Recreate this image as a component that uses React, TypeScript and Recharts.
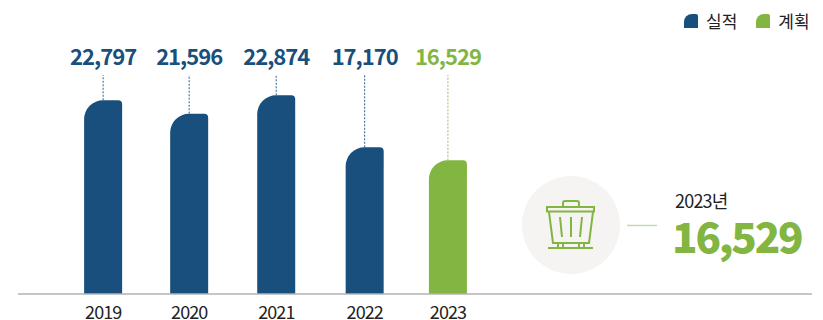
import React from "react";
import { BarChart, Bar, XAxis, YAxis, Legend } from "recharts";

const years = [2019, 2020, 2021, 2022, 2023];
const printedValues = ["22,797", "21,596", "22,874", "17,170", "16,529"];
// Bar lengths (the reference's bars are not strictly proportional).
const actualSeries = [22860, 21270, 23450, 17310, null];
const planSeries = [null, null, null, null, 15780];
const seriesNames = ["실적", "계획"];
const highlightYear = "2023년";
const highlightValue = "16,529";

const NAVY = "#184f7d";
const GREEN = "#82b541";
const FONT = "'Noto Sans CJK KR', 'Noto Sans', sans-serif";
const nudge = [0.2, 0, 0.8, 3, 0];

const data = years.map((year, i) => ({
  year,
  actual: actualSeries[i],
  plan: planSeries[i],
  label: printedValues[i],
  nudge: nudge[i],
}));

const BarShape = (props: any) => {
  const { x, y, width, height, payload, fill } = props;
  if (!height || height <= 0) return null;
  const dx = payload.nudge;
  const l = x + dx;
  const r = l + width;
  const b = y + height;
  const cx = l + width / 2;
  const tl = 19;
  const tr = 4;
  return (
    <g>
      <line
        x1={cx}
        x2={cx}
        y1={y}
        y2={75}
        stroke={fill}
        strokeWidth={1}
        strokeDasharray="2 1.5"
        opacity={fill === GREEN ? 0.8 : 0.9}
      />
      <path
        d={`M${l},${b} L${l},${y + tl} A${tl},${tl} 0 0 1 ${l + tl},${y} L${r - tr},${y} A${tr},${tr} 0 0 1 ${r},${y + tr} L${r},${b} Z`}
        fill={fill}
      />
      <text x={cx} y={65} textAnchor="middle" fill={fill} fontFamily={FONT} fontWeight={700} fontSize={22} letterSpacing={-1}>
        {payload.label}
      </text>
    </g>
  );
};

const YearTick = (props: any) => {
  const { x, payload } = props;
  const i = years.indexOf(payload.value);
  return (
    <text x={x + (nudge[i] ?? 0)} y={319} textAnchor="middle" fill="#222" fontFamily={FONT} fontSize={18} letterSpacing={-0.9}>
      {payload.value}
    </text>
  );
};

const LegendContent = (props: any) => (
  <div style={{ display: "flex", fontFamily: FONT, fontSize: 17, color: "#222", lineHeight: "20px" }}>
    {(props.payload || []).map((e: any, i: number) => (
      <div key={e.value} style={{ display: "flex", alignItems: "center", marginLeft: i ? 19 : 0 }}>
        <span
          style={{
            display: "inline-block",
            width: 14,
            height: 14,
            background: e.color,
            borderTopLeftRadius: 8,
            borderTopRightRadius: 2,
            marginRight: 8,
          }}
        />
        <span>{e.value}</span>
      </div>
    ))}
  </div>
);

const TrashIcon = () => (
  <g fill="none" stroke={GREEN} strokeWidth={2}>
    <path d="M563,207 V203 Q563,201 565,201 H577 Q579,201 579,203 V207" />
    <rect x="547" y="207" width="47" height="4.5" />
    <path d="M549,212 L553,243 H589 L593,212" />
    <path d="M560,217 L562,237 M571,217 V237 M582,217 L580,237" />
    <path d="M558,243 V248 H563 V243 M579,243 V248 H584 V243" />
    <path d="M548,248 H593" />
  </g>
);

export default function App() {
  return (
    <div style={{ position: "absolute", left: 0, top: 0, width: 823, height: 320, background: "#fff" }}>
      <BarChart
        width={823}
        height={320}
        data={data}
        margin={{ top: 0, right: 11, bottom: 0, left: 18 }}
        barSize={38}
      >
        <XAxis
          dataKey="year"
          type="number"
          domain={[2018.014, 2027.22]}
          ticks={years}
          allowDataOverflow
          axisLine={{ stroke: "#b3b3b3", strokeWidth: 1.5 }}
          tickLine={false}
          tick={<YearTick />}
          height={26}
        />
        <YAxis hide type="number" domain={[0, 34692]} />
        <Legend
          layout="horizontal"
          verticalAlign="middle"
          align="center"
          itemSorter={null}
          content={<LegendContent />}
          wrapperStyle={{ position: "absolute", top: 11, left: 684, right: "auto", bottom: "auto", width: 130 }}
        />
        <Bar dataKey="actual" name={seriesNames[0]} stackId="a" fill={NAVY} shape={<BarShape />} isAnimationActive={false} />
        <Bar dataKey="plan" name={seriesNames[1]} stackId="a" fill={GREEN} shape={<BarShape />} isAnimationActive={false} />
      </BarChart>
      <svg width={823} height={320} style={{ position: "absolute", left: 0, top: 0, pointerEvents: "none" }}>
        <circle cx={571} cy={225} r={49} fill="#f5f4f2" />
        <TrashIcon />
        <line x1={627} x2={657} y1={225.5} y2={225.5} stroke="#c3dba5" strokeWidth={1.5} />
        <text x={675} y={208} fill="#222" fontFamily={FONT} fontSize={18} letterSpacing={-0.8}>
          {highlightYear}
        </text>
        <text x={672} y={253} fill={GREEN} fontFamily={FONT} fontWeight={900} fontSize={42} letterSpacing={-2.2}>
          {highlightValue}
        </text>
      </svg>
    </div>
  );
}
